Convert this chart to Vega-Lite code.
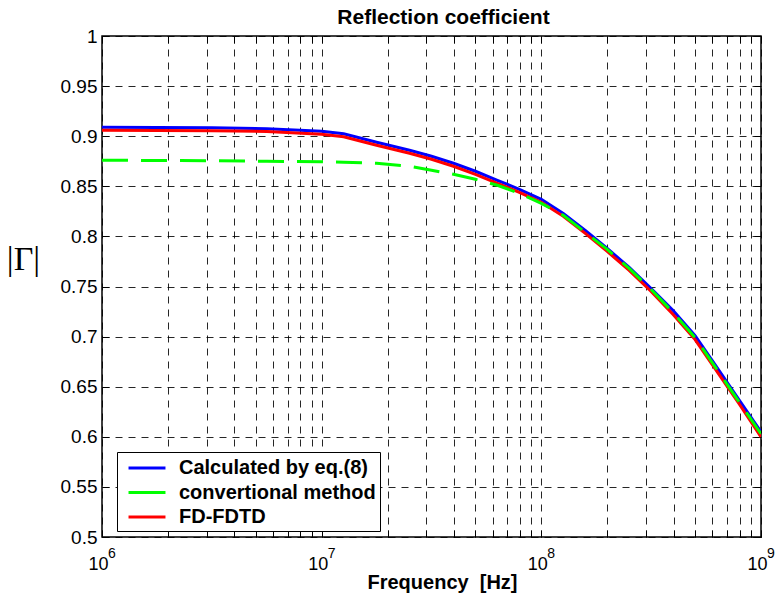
{
  "$schema": "https://vega.github.io/schema/vega-lite/v6.json",
  "autosize": "none",
  "width": 659,
  "height": 501,
  "padding": {"left": 102, "top": 36, "right": 17, "bottom": 61},
  "background": "white",
  "config": {
    "view": {"stroke": "black", "strokeWidth": 1.5},
    "font": "Liberation Sans"
  },
  "resolve": {"axis": {"x": "independent", "y": "independent"}},
  "layer": [
    {
      "data": {
        "values": [
          {"f": 1000000, "G": 0.909, "s": "Calculated by eq.(8)"},
          {"f": 1778279, "G": 0.9088, "s": "Calculated by eq.(8)"},
          {"f": 3162278, "G": 0.9084, "s": "Calculated by eq.(8)"},
          {"f": 5623413, "G": 0.9075, "s": "Calculated by eq.(8)"},
          {"f": 10000000, "G": 0.905, "s": "Calculated by eq.(8)"},
          {"f": 12589254, "G": 0.9025, "s": "Calculated by eq.(8)"},
          {"f": 17782794, "G": 0.894, "s": "Calculated by eq.(8)"},
          {"f": 25118864, "G": 0.886, "s": "Calculated by eq.(8)"},
          {"f": 31622777, "G": 0.88, "s": "Calculated by eq.(8)"},
          {"f": 39810717, "G": 0.873, "s": "Calculated by eq.(8)"},
          {"f": 50118723, "G": 0.865, "s": "Calculated by eq.(8)"},
          {"f": 63095734, "G": 0.856, "s": "Calculated by eq.(8)"},
          {"f": 79432823, "G": 0.847, "s": "Calculated by eq.(8)"},
          {"f": 100000000, "G": 0.837, "s": "Calculated by eq.(8)"},
          {"f": 125892541, "G": 0.823, "s": "Calculated by eq.(8)"},
          {"f": 158489319, "G": 0.806, "s": "Calculated by eq.(8)"},
          {"f": 199526231, "G": 0.788, "s": "Calculated by eq.(8)"},
          {"f": 251188643, "G": 0.769, "s": "Calculated by eq.(8)"},
          {"f": 316227766, "G": 0.748, "s": "Calculated by eq.(8)"},
          {"f": 398107171, "G": 0.726, "s": "Calculated by eq.(8)"},
          {"f": 501187234, "G": 0.701, "s": "Calculated by eq.(8)"},
          {"f": 630957344, "G": 0.669, "s": "Calculated by eq.(8)"},
          {"f": 794328235, "G": 0.637, "s": "Calculated by eq.(8)"},
          {"f": 1000000000, "G": 0.605, "s": "Calculated by eq.(8)"},
          {"f": 1000000, "G": 0.906, "s": "\u00a0FD-FDTD"},
          {"f": 1778279, "G": 0.9058, "s": "\u00a0FD-FDTD"},
          {"f": 3162278, "G": 0.9055, "s": "\u00a0FD-FDTD"},
          {"f": 5623413, "G": 0.9048, "s": "\u00a0FD-FDTD"},
          {"f": 10000000, "G": 0.902, "s": "\u00a0FD-FDTD"},
          {"f": 12589254, "G": 0.8995, "s": "\u00a0FD-FDTD"},
          {"f": 17782794, "G": 0.891, "s": "\u00a0FD-FDTD"},
          {"f": 25118864, "G": 0.883, "s": "\u00a0FD-FDTD"},
          {"f": 31622777, "G": 0.877, "s": "\u00a0FD-FDTD"},
          {"f": 39810717, "G": 0.87, "s": "\u00a0FD-FDTD"},
          {"f": 50118723, "G": 0.862, "s": "\u00a0FD-FDTD"},
          {"f": 63095734, "G": 0.853, "s": "\u00a0FD-FDTD"},
          {"f": 79432823, "G": 0.844, "s": "\u00a0FD-FDTD"},
          {"f": 100000000, "G": 0.834, "s": "\u00a0FD-FDTD"},
          {"f": 125892541, "G": 0.82, "s": "\u00a0FD-FDTD"},
          {"f": 158489319, "G": 0.803, "s": "\u00a0FD-FDTD"},
          {"f": 199526231, "G": 0.785, "s": "\u00a0FD-FDTD"},
          {"f": 251188643, "G": 0.766, "s": "\u00a0FD-FDTD"},
          {"f": 316227766, "G": 0.745, "s": "\u00a0FD-FDTD"},
          {"f": 398107171, "G": 0.722, "s": "\u00a0FD-FDTD"},
          {"f": 501187234, "G": 0.697, "s": "\u00a0FD-FDTD"},
          {"f": 630957344, "G": 0.665, "s": "\u00a0FD-FDTD"},
          {"f": 794328235, "G": 0.633, "s": "\u00a0FD-FDTD"},
          {"f": 1000000000, "G": 0.6, "s": "\u00a0FD-FDTD"},
          {"f": 1000000, "G": 0.876, "s": "convertional method"},
          {"f": 1778279, "G": 0.8758, "s": "convertional method"},
          {"f": 3162278, "G": 0.8755, "s": "convertional method"},
          {"f": 5623413, "G": 0.875, "s": "convertional method"},
          {"f": 10000000, "G": 0.8745, "s": "convertional method"},
          {"f": 12589254, "G": 0.874, "s": "convertional method"},
          {"f": 17782794, "G": 0.873, "s": "convertional method"},
          {"f": 25118864, "G": 0.87, "s": "convertional method"},
          {"f": 31622777, "G": 0.866, "s": "convertional method"},
          {"f": 39810717, "G": 0.862, "s": "convertional method"},
          {"f": 50118723, "G": 0.857, "s": "convertional method"},
          {"f": 63095734, "G": 0.851, "s": "convertional method"},
          {"f": 79432823, "G": 0.843, "s": "convertional method"},
          {"f": 100000000, "G": 0.833, "s": "convertional method"},
          {"f": 125892541, "G": 0.821, "s": "convertional method"},
          {"f": 158489319, "G": 0.804, "s": "convertional method"},
          {"f": 199526231, "G": 0.787, "s": "convertional method"},
          {"f": 251188643, "G": 0.768, "s": "convertional method"},
          {"f": 316227766, "G": 0.747, "s": "convertional method"},
          {"f": 398107171, "G": 0.724, "s": "convertional method"},
          {"f": 501187234, "G": 0.699, "s": "convertional method"},
          {"f": 630957344, "G": 0.667, "s": "convertional method"},
          {"f": 794328235, "G": 0.635, "s": "convertional method"},
          {"f": 1000000000, "G": 0.603, "s": "convertional method"}
        ]
      },
      "layer": [
        {
          "transform": [{"filter": "datum.s !== 'convertional method'"}],
          "mark": {"type": "line", "strokeWidth": 3, "clip": true},
          "encoding": {
            "x": {
              "field": "f", "type": "quantitative",
              "scale": {"type": "log", "domain": [1000000, 1000000000], "nice": false},
              "axis": {
                "orient": "bottom",
                "values": [1000000, 2000000, 3000000, 4000000, 5000000, 6000000, 7000000, 8000000, 9000000, 10000000, 20000000, 30000000, 40000000, 50000000, 60000000, 70000000, 80000000, 90000000, 100000000, 200000000, 300000000, 400000000, 500000000, 600000000, 700000000, 800000000, 900000000, 1000000000],
                "labelExpr": "abs(log(datum.value)/LN10 - round(log(datum.value)/LN10)) < 0.000001 ? '10' : ''",
                "labelFont": "Liberation Sans", "labelFontSize": 18, "labelColor": "black",
                "labelPadding": 25, "labelBaseline": "top", "labelFlush": false, "labelOverlap": false,
                "labelOffset": -4,
                "domain": false,
                "ticks": true, "tickSize": -7, "tickColor": "black", "tickWidth": 1,
                "grid": true, "gridColor": "black", "gridDash": [7, 6], "gridWidth": 1, "gridOpacity": 0.85,
                "title": "Frequency \u00a0[Hz]",
                "titleFont": "Liberation Sans", "titleFontSize": 20, "titleFontWeight": "bold", "titleColor": "black",
                "titleX": 340, "titleY": 51, "titleAlign": "center", "titleBaseline": "alphabetic"
              }
            },
            "y": {
              "field": "G", "type": "quantitative",
              "scale": {"domain": [0.5, 1], "nice": false, "zero": false},
              "axis": {
                "orient": "left",
                "values": [0.5, 0.55, 0.6, 0.65, 0.7, 0.75, 0.8, 0.85, 0.9, 0.95, 1],
                "format": "~g",
                "labelFont": "Liberation Sans", "labelFontSize": 19, "labelColor": "black",
                "labelPadding": 12, "labelFlush": false, "labelOverlap": false,
                "domain": false,
                "ticks": true, "tickSize": -7, "tickColor": "black", "tickWidth": 1,
                "grid": true, "gridColor": "black", "gridDash": [7, 6], "gridWidth": 1, "gridOpacity": 0.85,
                "title": "|Γ|",
                "titleFont": "Liberation Serif", "titleFontSize": 34, "titleFontWeight": "normal", "titleColor": "black",
                "titleAngle": 0, "titleX": -79, "titleY": 223, "titleAlign": "center", "titleBaseline": "middle"
              }
            },
            "color": {
              "field": "s", "type": "nominal",
              "scale": {"domain": ["Calculated by eq.(8)", "convertional method", "\u00a0FD-FDTD"], "range": ["#0000ff", "#00ff00", "#ff0000"]},
              "legend": {
                "title": null,
                "orient": "none",
                "legendX": 15,
                "legendY": 416,
                "fillColor": "white",
                "strokeColor": "black",
                "padding": 4,
                "symbolType": "M-1.76,0H1.76",
                "symbolSize": 441,
                "symbolOffset": 14,
                "symbolStrokeWidth": 3,
                "symbolDash": [1, 0],
                "labelFont": "Liberation Sans",
                "labelFontSize": 20,
                "labelFontWeight": "bold",
                "labelColor": "black",
                "labelOffset": 20,
                "rowPadding": 2.5,
                "labelLimit": 400
              }
            }
          }
        },
        {
          "transform": [{"filter": "datum.s === 'convertional method'"}],
          "mark": {"type": "line", "strokeWidth": 3, "strokeDash": [26, 13], "clip": true},
          "encoding": {
            "x": {"field": "f", "type": "quantitative", "axis": null},
            "y": {"field": "G", "type": "quantitative", "axis": null},
            "color": {"field": "s", "type": "nominal"}
          }
        },
        {
          "mark": {"type": "line", "opacity": 0},
          "encoding": {
            "x": {
              "field": "f", "type": "quantitative",
              "axis": {
                "orient": "top",
                "values": [1000000, 2000000, 3000000, 4000000, 5000000, 6000000, 7000000, 8000000, 9000000, 10000000, 20000000, 30000000, 40000000, 50000000, 60000000, 70000000, 80000000, 90000000, 100000000, 200000000, 300000000, 400000000, 500000000, 600000000, 700000000, 800000000, 900000000, 1000000000],
                "labels": false, "domain": false, "grid": false,
                "ticks": true, "tickSize": -7, "tickColor": "black", "tickWidth": 1,
                "title": "Reflection coefficient",
                "titleFont": "Liberation Sans", "titleFontSize": 21, "titleFontWeight": "bold", "titleColor": "black",
                "titleX": 341, "titleY": -13, "titleAlign": "center", "titleBaseline": "alphabetic"
              }
            },
            "y": {
              "field": "G", "type": "quantitative",
              "axis": {
                "orient": "right",
                "values": [0.5, 0.55, 0.6, 0.65, 0.7, 0.75, 0.8, 0.85, 0.9, 0.95, 1],
                "labels": false, "domain": false, "grid": false, "title": null,
                "ticks": true, "tickSize": -7, "tickColor": "black", "tickWidth": 1
              }
            }
          }
        }
      ]
    },
    {
      "data": {
        "values": [
          {"f": 1000000, "e": "6"},
          {"f": 10000000, "e": "7"},
          {"f": 100000000, "e": "8"},
          {"f": 1000000000, "e": "9"}
        ]
      },
      "mark": {"type": "text", "align": "left", "baseline": "alphabetic", "dx": 6, "dy": 21, "fontSize": 14, "font": "Liberation Sans", "color": "black", "clip": false},
      "encoding": {
        "x": {"field": "f", "type": "quantitative", "axis": null},
        "y": {"datum": 0.5, "type": "quantitative", "axis": null},
        "text": {"field": "e"}
      }
    }
  ]
}
